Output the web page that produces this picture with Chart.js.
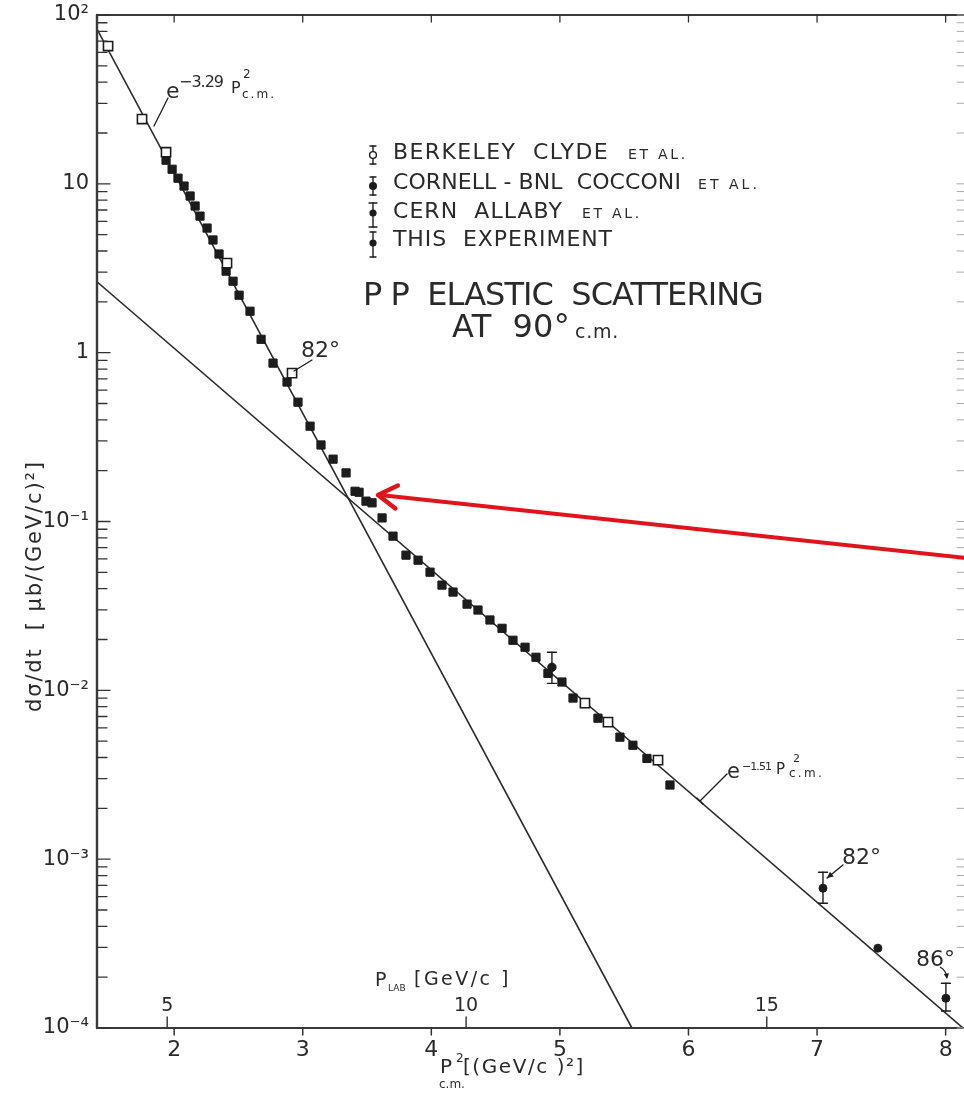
<!DOCTYPE html>
<html><head><meta charset="utf-8">
<script src="https://cdn.jsdelivr.net/npm/chart.js@4.4.1/dist/chart.umd.min.js"></script>
<style>html,body{margin:0;padding:0;background:#fff;}canvas{display:block;}</style>
</head><body>
<canvas id="c" width="964" height="1094"></canvas>
<script>
// ---------------- data ----------------
const cornellX = [1.937,1.984,2.030,2.077,2.124,2.163,2.201,2.256,2.302,2.349,2.404,2.458,2.505,2.590,2.676,2.769,2.878,2.963,3.057,3.142,3.236,3.337,3.407,3.438,3.492,3.539,3.617,3.702,3.803,3.897,3.990,4.083,4.169,4.278,4.363,4.456,4.550,4.635,4.729,4.814,4.907,5.016,5.102,5.296,5.467,5.568,5.677,5.856];
const cornellY = [13.8,12.2,10.8,9.70,8.47,7.39,6.44,5.47,4.65,3.84,3.04,2.65,2.19,1.76,1.20,0.867,0.670,0.509,0.367,0.284,0.234,0.194,0.151,0.149,0.132,0.129,0.105,0.0819,0.0632,0.0590,0.0501,0.0420,0.0382,0.0324,0.0299,0.0261,0.0233,0.0198,0.0180,0.0157,0.0126,0.0112,0.0090,0.00684,0.00528,0.00473,0.00395,0.00275];
const berkeleyX = [1.486,1.750,1.937,2.411,2.917,5.195,5.374,5.763];
const berkeleyY = [65.5,24.2,15.4,3.39,0.757,0.00840,0.00648,0.00386];
const cernX = [4.938];
const cernY = [0.0137];
const cernLow = [0.0110];
const cernHigh = [0.0168];
const thisX = [7.046,7.473,8.002];
const thisY = [6.73e-4,2.97e-4,1.50e-4];
const thisLow = [5.48e-4,null,1.26e-4];
const thisHigh = [8.37e-4,null,1.84e-4];
const fitSteepX = [1.40,5.56];
const fitSteepY = [82.6,1.0e-4];
const fitShallowX = [1.40,8.135];
const fitShallowY = [2.63,1.0e-4];
const xTicks = [2,3,4,5,6,7,8];
const yDecades = [-4,-3,-2,-1,0,1,2];
const yDecadeLabels = ['10\u207B\u2074','10\u207B\u00B3','10\u207B\u00B2','10\u207B\u00B9','1','10','10\u00B2'];
const pLabTicks = [5,10,15];

// ---------------- styling / frame ----------------
const FONT = '"DejaVu Sans", sans-serif';
const INK = '#1c1c1c';
const TEXT = '#2a2a2a';
const LINE = '#2a2a2a';
const AREA = { left: 97, top: 15, right: 963, bottom: 1028 };
const M_P = 0.938;
function pcm2FromPlab(p){ const E = Math.sqrt(p*p + M_P*M_P); return M_P*(E - M_P)/2; }

const zip = (xs, ys) => xs.map((x,i)=>({x, y: ys[i]}));
const zipErr = (xs, ys, lo, hi) => xs.map((x,i)=>({x, y: ys[i], lo: lo[i], hi: hi[i]}));

function drawText(ctx, s, x, y, size, o = {}) {
  ctx.save();
  ctx.font = (o.weight || '400') + ' ' + size + 'px ' + FONT;
  ctx.fillStyle = o.color || TEXT;
  ctx.textAlign = o.align || 'left';
  ctx.textBaseline = o.base || 'alphabetic';
  if (o.width) {
    ctx.letterSpacing = '0px';
    const w = ctx.measureText(s).width;
    const n = Array.from(s).length;
    ctx.letterSpacing = ((o.width - w) / n).toFixed(2) + 'px';
  }
  if (o.rot) { ctx.translate(x, y); ctx.rotate(o.rot); ctx.fillText(s, 0, 0); }
  else ctx.fillText(s, x, y);
  ctx.restore();
}
function seg(ctx, x1, y1, x2, y2, w, c) {
  ctx.save(); ctx.strokeStyle = c || INK; ctx.lineWidth = w || 1.3; ctx.lineCap = 'round';
  ctx.beginPath(); ctx.moveTo(x1, y1); ctx.lineTo(x2, y2); ctx.stroke(); ctx.restore();
}
function arrowHead(ctx, x1, y1, x2, y2, len, ang, w, c, filled) {
  const a = Math.atan2(y2 - y1, x2 - x1);
  const p1 = [x2 - len*Math.cos(a - ang), y2 - len*Math.sin(a - ang)];
  const p2 = [x2 - len*Math.cos(a + ang), y2 - len*Math.sin(a + ang)];
  ctx.save(); ctx.strokeStyle = c; ctx.fillStyle = c; ctx.lineWidth = w; ctx.lineCap = 'round'; ctx.lineJoin = 'round';
  ctx.beginPath(); ctx.moveTo(p1[0], p1[1]); ctx.lineTo(x2, y2); ctx.lineTo(p2[0], p2[1]);
  if (filled) { ctx.closePath(); ctx.fill(); } else ctx.stroke();
  ctx.restore();
}
function errSymbol(ctx, x, yTop, yBot, yc, r, open, cap) {
  seg(ctx, x, yTop, x, yBot, 1.4);
  seg(ctx, x - cap, yTop, x + cap, yTop, 1.4);
  seg(ctx, x - cap, yBot, x + cap, yBot, 1.4);
  ctx.save(); ctx.beginPath(); ctx.arc(x, yc, r, 0, Math.PI*2);
  if (open) { ctx.fillStyle = '#fff'; ctx.fill(); ctx.strokeStyle = INK; ctx.lineWidth = 1.4; ctx.stroke(); }
  else { ctx.fillStyle = INK; ctx.fill(); }
  ctx.restore();
}

// pin the plot frame to the reference position, then let the scales recompute their pixel mapping
const pinArea = {
  id: 'pinArea',
  afterLayout(chart) {
    try {
      const a = chart.chartArea, xs = chart.scales.x, ys = chart.scales.y;
      a.left = AREA.left; a.right = AREA.right; a.top = AREA.top; a.bottom = AREA.bottom;
      a.width = a.right - a.left; a.height = a.bottom - a.top;
      xs.left = AREA.left; xs.right = AREA.right; xs.width = a.width; xs.configure();
      ys.top = AREA.top; ys.bottom = AREA.bottom; ys.height = a.height; ys.configure();
    } catch (e) { /* keep library layout if anything fails */ }
  }
};

const deco = {
  id: 'deco',
  afterDatasetsDraw(chart) {
    const ctx = chart.ctx, xs = chart.scales.x, ys = chart.scales.y;
    chart.data.datasets.forEach(ds => {
      ds.data.forEach(d => {
        if (d.lo == null || d.hi == null) return;
        const px = xs.getPixelForValue(d.x);
        const y1 = ys.getPixelForValue(d.hi), y2 = ys.getPixelForValue(d.lo);
        seg(ctx, px, y1, px, y2, 1.4);
        seg(ctx, px - 4.5, y1, px + 4.5, y1, 1.4);
        seg(ctx, px - 4.5, y2, px + 4.5, y2, 1.4);
      });
    });
  },
  afterDraw(chart) {
    const ctx = chart.ctx, a = chart.chartArea, xs = chart.scales.x, ys = chart.scales.y;
    // frame: left, bottom, top (right edge is cut off in the reference)
    seg(ctx, a.left, a.top, a.left, a.bottom, 2.4, '#3a3a3a');
    seg(ctx, a.left, a.bottom, a.right + 1, a.bottom, 2.2, '#3a3a3a');
    seg(ctx, a.left, a.top, a.right + 1, a.top, 2.0, '#3a3a3a');
    // y ticks (inward) and decade labels from the log scale's ticks
    ys.ticks.forEach(t => {
      const py = ys.getPixelForValue(t.value);
      const e = Math.log10(t.value);
      const r = Math.round(e);
      const major = Math.abs(e - r) < 1e-9;
      const len = major ? 13 : 10;
      seg(ctx, a.left, py, a.left + len, py, 1.3, '#333');
      seg(ctx, a.right + 1, py, a.right - 6, py, 1, '#aaa');
      if (major) {
        const i = yDecades.indexOf(r);
        if (i >= 0) drawText(ctx, yDecadeLabels[i], a.left - 8, py, 21, {align: 'right', base: 'middle'});
      }
    });
    // x ticks (outward, below), labels, and top ticks
    xs.ticks.forEach(t => {
      const px = xs.getPixelForValue(t.value);
      seg(ctx, px, a.bottom, px, a.bottom + 7, 1.5, '#333');
      seg(ctx, px, a.top, px, a.top + 7, 1.3, '#333');
      drawText(ctx, String(t.value), px, a.bottom + 11, 22, {align: 'center', base: 'top'});
    });
    // P_LAB secondary ticks
    pLabTicks.forEach(p => {
      const px = xs.getPixelForValue(pcm2FromPlab(p));
      seg(ctx, px, a.bottom, px, a.bottom - 11, 1.4, '#333');
      drawText(ctx, String(p), px, a.bottom - 22, 19, {align: 'center', base: 'middle'});
    });
    drawText(ctx, 'P', 375, 986, 19);
    drawText(ctx, 'LAB', 388, 991, 9);
    drawText(ctx, '[GeV/c ]', 414, 985, 19, {width: 97});

    // y-axis title (rotated, reading upward)
    drawText(ctx, 'd\u03C3/dt  [ \u03BCb/(GeV/c)\u00B2]', 41, 712, 21, {rot: -Math.PI/2, width: 252});

    // x-axis title
    drawText(ctx, 'P', 440, 1073, 20);
    drawText(ctx, '2', 456, 1062, 12);
    drawText(ctx, 'c.m.', 439, 1088, 12);
    drawText(ctx, '[(GeV/c )\u00B2]', 463, 1073, 20, {width: 122});

    // legend
    errSymbol(ctx, 373, 146, 164, 155, 3.4, true, 3);
    drawText(ctx, 'BERKELEY  CLYDE', 393, 153, 22, {base: 'middle', width: 216});
    drawText(ctx, 'ET AL.', 628, 155, 14, {base: 'middle', width: 60});
    errSymbol(ctx, 373, 177, 195, 186, 4, false, 3);
    drawText(ctx, 'CORNELL - BNL  COCCONI', 393, 183, 22, {base: 'middle', width: 288});
    drawText(ctx, 'ET AL.', 698, 185, 14, {base: 'middle', width: 62});
    errSymbol(ctx, 373, 203, 227, 213, 3.6, false, 4);
    drawText(ctx, 'CERN  ALLABY', 393, 212, 22, {base: 'middle', width: 170});
    drawText(ctx, 'ET AL.', 582, 214, 14, {base: 'middle', width: 60});
    errSymbol(ctx, 373, 232, 257, 243, 3.6, false, 3);
    drawText(ctx, 'THIS  EXPERIMENT', 393, 240, 22, {base: 'middle', width: 220});

    // title
    drawText(ctx, 'P P  ELASTIC  SCATTERING', 363, 305, 32, {width: 400});
    drawText(ctx, 'AT  90\u00B0', 452, 337, 32, {width: 118});
    drawText(ctx, 'c.m.', 575, 338, 19, {width: 44});

    // fit labels
    drawText(ctx, 'e', 166, 98, 22);
    drawText(ctx, '\u22123.29', 179, 87, 16, {width: 44});
    drawText(ctx, 'P', 231, 93, 16);
    drawText(ctx, '2', 243, 78, 12);
    drawText(ctx, 'c.m.', 242, 98, 12, {width: 34});
    seg(ctx, 168, 98, 154, 126, 1.3);

    drawText(ctx, 'e', 727, 778, 21);
    drawText(ctx, '\u22121.51', 742, 770, 11, {width: 29});
    drawText(ctx, 'P', 776, 774, 15);
    drawText(ctx, '2', 793, 762, 11);
    drawText(ctx, 'c.m.', 789, 777, 12, {width: 35});
    seg(ctx, 727, 774, 700, 801, 1.3);
    seg(ctx, 697, 798, 703, 804, 1.3);

    // angle labels
    drawText(ctx, '82\u00B0', 301, 357, 22);
    seg(ctx, 312, 360, 294, 371, 1.3);
    drawText(ctx, '82\u00B0', 842, 864, 22);
    seg(ctx, 843, 865, 827, 878, 1.3);
    arrowHead(ctx, 843, 865, 827, 878, 7, 0.45, 1.3, INK, true);
    drawText(ctx, '86\u00B0', 916, 966, 22);
    ctx.save(); ctx.strokeStyle = INK; ctx.lineWidth = 1.3; ctx.beginPath();
    ctx.moveTo(940, 967); ctx.quadraticCurveTo(946, 970, 947, 978); ctx.stroke(); ctx.restore();
    arrowHead(ctx, 946, 970, 947, 979, 6, 0.45, 1.3, INK, true);

    // red arrow
    const tx = 378, ty = 495, sx = 966, sy = 558;
    seg(ctx, sx, sy, tx + 2, ty, 4, '#e0141c');
    arrowHead(ctx, sx, sy, tx, ty, 22, 0.55, 4.5, '#e0141c', false);
  }
};

new Chart(document.getElementById('c'), {
  type: 'scatter',
  data: { datasets: [
    { label: 'Berkeley Clyde et al.', data: zip(berkeleyX, berkeleyY), pointStyle: 'rect', pointRadius: 6.5,
      borderColor: INK, borderWidth: 1.6, backgroundColor: '#fff', showLine: false },
    { label: 'Cornell-BNL Cocconi et al.', data: zip(cornellX, cornellY), pointStyle: 'rect', pointRadius: 5.8,
      borderColor: INK, borderWidth: 1, backgroundColor: INK, showLine: false },
    { label: 'CERN Allaby et al.', data: zipErr(cernX, cernY, cernLow, cernHigh), pointStyle: 'circle', pointRadius: 4.2,
      borderColor: INK, backgroundColor: INK, showLine: false },
    { label: 'This experiment', data: zipErr(thisX, thisY, thisLow, thisHigh), pointStyle: 'circle', pointRadius: 4,
      borderColor: INK, backgroundColor: INK, showLine: false },
    { label: 'e^-3.29 p2', data: zip(fitSteepX, fitSteepY), showLine: true, pointRadius: 0,
      borderColor: LINE, borderWidth: 1.6, fill: false },
    { label: 'e^-1.51 p2', data: zip(fitShallowX, fitShallowY), showLine: true, pointRadius: 0,
      borderColor: LINE, borderWidth: 1.6, fill: false }
  ]},
  options: {
    responsive: false, animation: false, devicePixelRatio: 1,
    layout: { padding: { top: 15, right: 1, left: 0, bottom: 0 } },
    plugins: { legend: { display: false }, tooltip: { enabled: false } },
    scales: {
      x: {
        type: 'linear', min: 1.4, max: 8.135,
        afterFit(s) { s.height = 66; },
        afterBuildTicks(s) { s.ticks = xTicks.map(v => ({ value: v })); },
        grid: { display: false, drawTicks: false },
        border: { display: false },
        ticks: { display: false }
      },
      y: {
        type: 'logarithmic', min: 1e-4, max: 1e2,
        afterFit(s) { s.width = 97; },
        afterBuildTicks(s) {
          const t = [];
          yDecades.forEach(e => { for (let m = 1; m <= 9; m++) { const v = m * Math.pow(10, e); if (v <= 100.0001) t.push({ value: v, major: m === 1 }); } });
          s.ticks = t;
        },
        grid: { display: false, drawTicks: false },
        border: { display: false },
        ticks: { display: false }
      }
    }
  },
  plugins: [pinArea, deco]
});
</script>
</body></html>
